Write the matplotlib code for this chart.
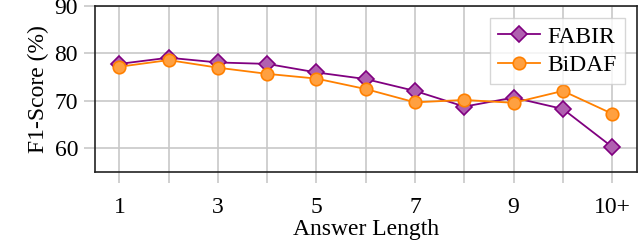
import matplotlib
matplotlib.use('Agg')
import matplotlib.pyplot as plt

plt.rcParams['font.family'] = ['Liberation Serif', 'DejaVu Serif']

# data
positions = [1, 2, 3, 4, 5, 6, 7, 8, 9, 10, 11]
fabir = [77.8, 79.1, 78.1, 77.8, 76.0, 74.6, 72.1, 68.8, 70.7, 68.3, 60.3]
bidaf = [77.2, 78.6, 77.0, 75.7, 74.7, 72.5, 69.7, 70.2, 69.6, 72.1, 67.3]
x_labels = ['1', '', '3', '', '5', '', '7', '', '9', '', '10+']
y_ticks = [60, 70, 80, 90]

purple = '#800080'
orange = '#ff8000'

fig = plt.figure(figsize=(6.4, 2.4), dpi=100)
ax = fig.add_axes([0.148, 0.283, 0.847, 0.692])

ax.plot(positions, fabir, color=purple, lw=1.3, marker='D', ms=8,
        mfc='#b060b0', mec=purple, mew=1.2, label='FABIR', zorder=3)
ax.plot(positions, bidaf, color=orange, lw=1.3, marker='o', ms=9,
        mfc='#ffa040', mec=orange, mew=1.2, label='BiDAF', zorder=3)

ax.set_xlim(0.5, 11.5)
ax.set_ylim(55, 90)
ax.set_xticks(positions)
ax.set_xticklabels(x_labels)
ax.set_yticks(y_ticks)

ax.grid(True, color='#c8c8c8', lw=1.2)
ax.set_axisbelow(True)
ax.tick_params(axis='both', which='major', labelsize=17, color='#c8c8c8',
               width=1.2, length=8)
ax.tick_params(axis='x', pad=10)
ax.tick_params(axis='y', pad=4)
for s in ax.spines.values():
    s.set_color('#222222')
    s.set_linewidth(1.2)

ax.set_xlabel('Answer Length', fontsize=17, labelpad=1)
ax.set_ylabel('F1-Score (%)', fontsize=17, labelpad=4)

leg = ax.legend(loc='upper right', fontsize=17, frameon=True, fancybox=False,
                handlelength=1.8, borderpad=0.35, labelspacing=0.3,
                handletextpad=0.3, borderaxespad=0.5)
leg.get_frame().set_edgecolor('#cccccc')
leg.get_frame().set_linewidth(1.0)

plt.savefig('out.png', dpi=100)
